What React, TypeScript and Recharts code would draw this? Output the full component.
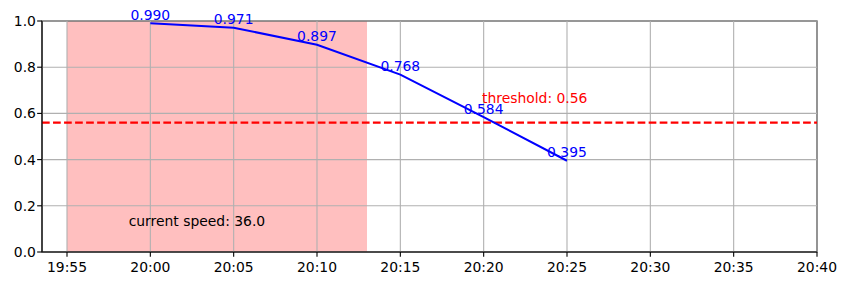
import React from 'react';
import {
  LineChart, Line, XAxis, YAxis, CartesianGrid, ReferenceArea, ReferenceLine,
  ReferenceDot, LabelList,
} from 'recharts';

const times = ['20:00', '20:05', '20:10', '20:15', '20:20', '20:25'];
const values = [0.990, 0.971, 0.897, 0.768, 0.584, 0.395];
const xTickLabels = ['19:55', '20:00', '20:05', '20:10', '20:15', '20:20', '20:25', '20:30', '20:35', '20:40'];
const yTicks = [0, 0.2, 0.4, 0.6, 0.8, 1.0];
const spanStart = '19:55';
const spanEnd = '20:13';
const threshold = 0.56;
const thresholdLabelTime = '20:19.9';
const thresholdLabelY = 0.63;
const speedLabelTime = '19:58.7';
const speedLabelY = 0.1;
const speedText = 'current speed: 36.0';
const xMinTime = '19:53.5';
const xMaxTime = '20:40';

const BASE = 19 * 60 + 55;
const toMin = (t: string) => {
  const [h, m] = t.split(':');
  return parseInt(h, 10) * 60 + parseFloat(m) - BASE;
};
const fmt = (v: number) => {
  const total = Math.round(BASE + v);
  const h = Math.floor(total / 60);
  const m = total % 60;
  return `${h}:${m < 10 ? '0' : ''}${m}`;
};

const data = times.map((t, i) => ({ x: toMin(t), y: values[i] }));
const xTicks = xTickLabels.map(toMin);

const FONT = 'DejaVu Sans';
const FS = 13.9;

const PointLabel = (props: any) => {
  const { x, y, value } = props;
  return (
    <text x={x} y={y - 3.3} textAnchor="middle" fill="#0000ff" fontFamily={FONT} fontSize={FS}>
      {Number(value).toFixed(3)}
    </text>
  );
};

const makeText = (txt: string, color: string) => (props: any) => {
  const vb = props.viewBox || {};
  return (
    <text x={vb.x} y={vb.y - 3.3} textAnchor="start" fill={color} fontFamily={FONT} fontSize={FS}>
      {txt}
    </text>
  );
};

export default function App() {
  return (
    <div style={{ position: 'absolute', left: 0, top: 0, width: 846, height: 286, background: '#fff' }}>
      <LineChart
        width={846}
        height={286}
        data={data}
        margin={{ top: 21, right: 29, bottom: 0, left: 2 }}
      >
        <XAxis
          dataKey="x"
          type="number"
          domain={[toMin(xMinTime), toMin(xMaxTime)]}
          ticks={xTicks}
          tickFormatter={fmt}
          allowDataOverflow
          height={34}
          stroke="#000"
          tickSize={4.86}
          tickMargin={5.6}
          tick={{ fill: '#000', fontFamily: FONT, fontSize: FS }}
          axisLine={{ stroke: '#000', strokeWidth: 1.1 }}
          tickLine={{ stroke: '#000', strokeWidth: 1.1 }}
          interval={0}
        />
        <YAxis
          type="number"
          domain={[0, 1]}
          ticks={yTicks}
          tickFormatter={(v: number) => v.toFixed(1)}
          allowDataOverflow
          width={40}
          tickSize={4.86}
          tickMargin={1.2}
          tick={{ fill: '#000', fontFamily: FONT, fontSize: FS }}
          axisLine={{ stroke: '#000', strokeWidth: 1.1 }}
          tickLine={{ stroke: '#000', strokeWidth: 1.1 }}
          interval={0}
        />
        <ReferenceArea
          x1={toMin(spanStart)}
          x2={toMin(spanEnd)}
          y1={0}
          y2={1}
          fill="#ffbfbf"
          fillOpacity={1}
          stroke="none"
        />
        <CartesianGrid stroke="#b0b0b0" strokeWidth={1.1} zIndex={150} />
        <ReferenceLine
          y={threshold}
          stroke="#ff0000"
          strokeWidth={2.08}
          strokeDasharray="7.7 3.33"
        />
        <Line
          dataKey="y"
          stroke="#0000ff"
          strokeWidth={2.08}
          dot={false}
          isAnimationActive={false}
        >
          <LabelList dataKey="y" content={PointLabel} />
        </Line>
        <ReferenceDot
          x={toMin(thresholdLabelTime)}
          y={thresholdLabelY}
          r={0}
          fill="none"
          stroke="none"
          label={makeText('threshold: 0.56', '#ff0000')}
        />
        <ReferenceDot
          x={toMin(speedLabelTime)}
          y={speedLabelY}
          r={0}
          fill="none"
          stroke="none"
          label={makeText(speedText, '#000000')}
        />
        <ReferenceArea
          x1={toMin(xMinTime)}
          x2={toMin(xMaxTime)}
          y1={0}
          y2={1}
          fill="none"
          stroke="#000"
          strokeWidth={1.1}
        />
      </LineChart>
    </div>
  );
}
